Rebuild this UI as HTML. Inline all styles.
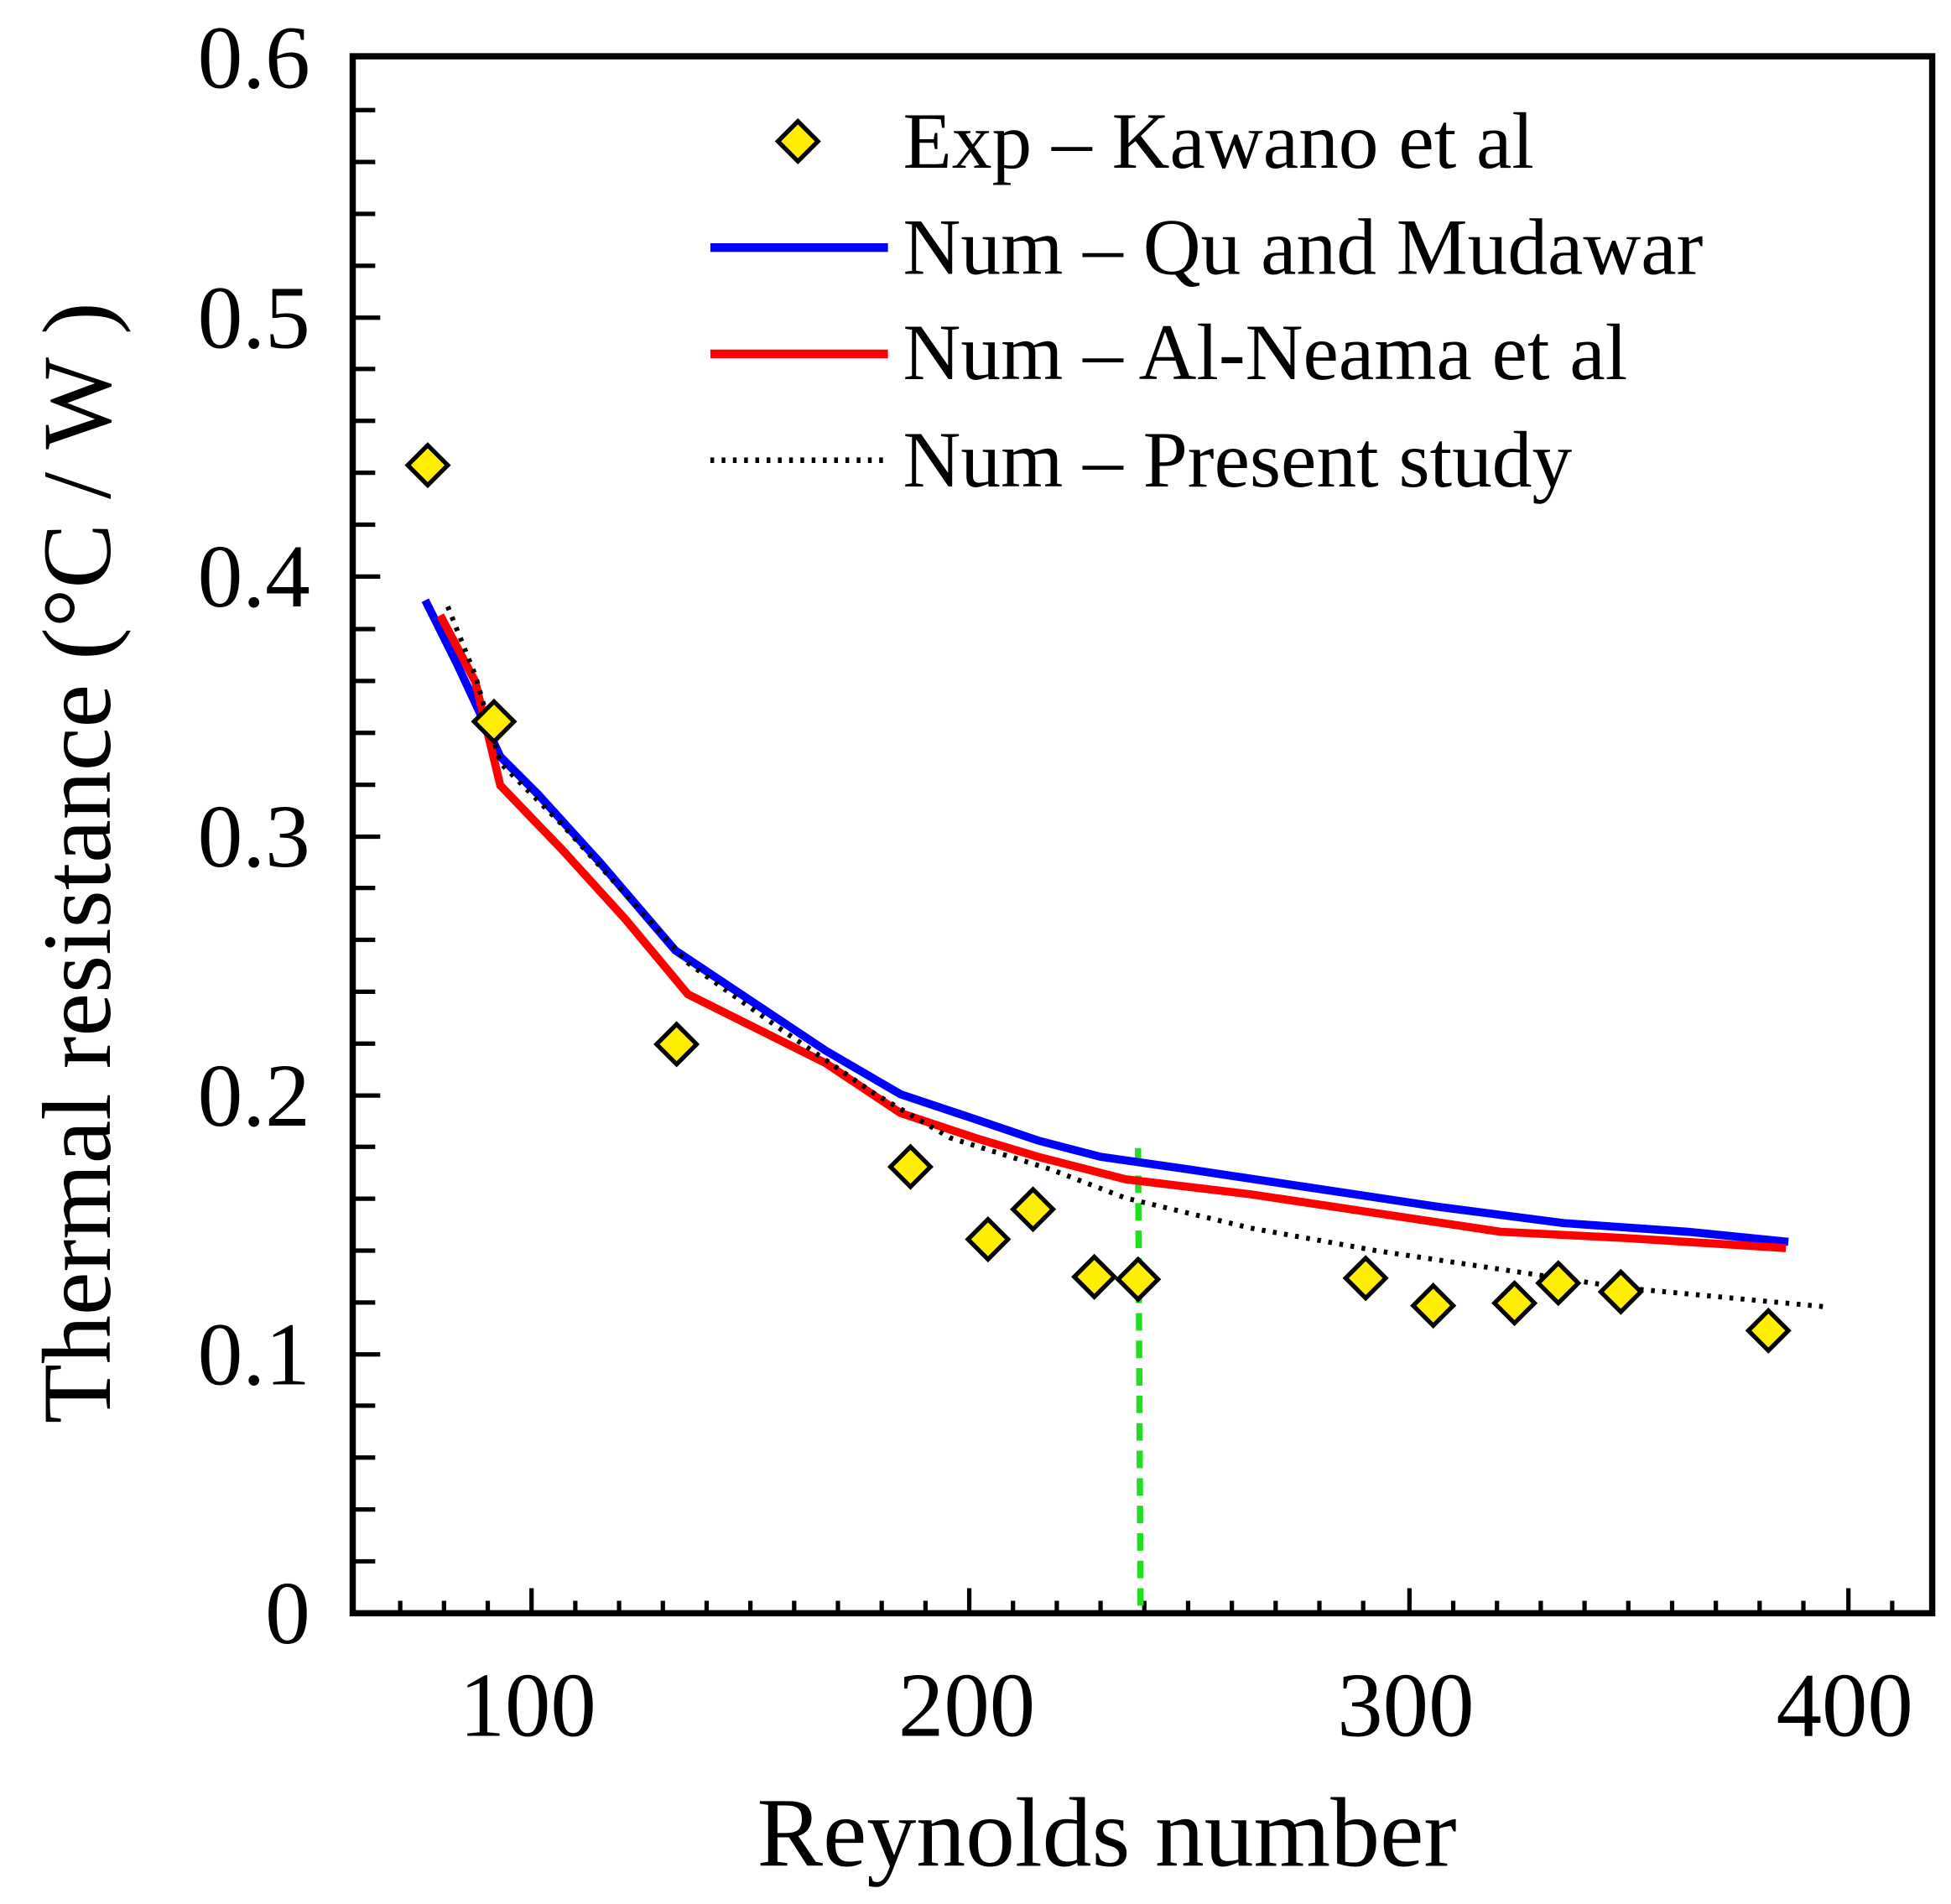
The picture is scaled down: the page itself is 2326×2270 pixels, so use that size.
<!DOCTYPE html>
<html><head><style>html,body{margin:0;padding:0;background:#fff}svg{display:block}</style></head><body>
<svg width="2326" height="2270" viewBox="0 0 1560 1522.5" xmlns="http://www.w3.org/2000/svg" font-family="Liberation Serif, serif">
<rect width="1560" height="1523" fill="#fff"/>
<rect x="282" y="45" width="1263" height="1245" fill="none" stroke="#000" stroke-width="5"/>
<g stroke="#000" stroke-width="3.5">
<path d="M425 1290v-20M775 1290v-20M1127 1290v-20M1478 1290v-20"/>
<path d="M320 1290v-10M355 1290v-10M390 1290v-10M460 1290v-10M495 1290v-10M530 1290v-10M565 1290v-10M600 1290v-10M635 1290v-10M670 1290v-10M705 1290v-10M740 1290v-10M810 1290v-10M845 1290v-10M880 1290v-10M915 1290v-10M950 1290v-10M985 1290v-10M1020 1290v-10M1055 1290v-10M1090 1290v-10M1162 1290v-10M1197 1290v-10M1232 1290v-10M1267 1290v-10M1302 1290v-10M1337 1290v-10M1372 1290v-10M1407 1290v-10M1442 1290v-10M1513 1290v-10"/>
<path d="M282 1083h22M282 876h22M282 669h22M282 461h22M282 254h22"/>
<path d="M282 1248.5h18M282 1207h18M282 1165.5h18M282 1124h18M282 1041.5h18M282 1000h18M282 958.5h18M282 917h18M282 834.5h18M282 793h18M282 751.5h18M282 710h18M282 627.5h18M282 586h18M282 544.5h18M282 503h18M282 419.5h18M282 378h18M282 336.5h18M282 295h18M282 212.5h18M282 171h18M282 129.5h18M282 88h18"/>
</g>
<g font-size="72" text-anchor="end" fill="#000">
<text x="248" y="1314">0</text><text x="248" y="1107">0.1</text><text x="248" y="900">0.2</text><text x="248" y="693">0.3</text><text x="248" y="485">0.4</text><text x="248" y="278">0.5</text><text x="248" y="70">0.6</text>
</g>
<g font-size="73" text-anchor="middle" fill="#000">
<text x="422" y="1388">100</text><text x="773" y="1388">200</text><text x="1124" y="1388">300</text><text x="1475" y="1388">400</text>
</g>
<text x="885" y="1492" font-size="79" text-anchor="middle">Reynolds number</text>
<text transform="translate(88,690) rotate(-90)" font-size="78" text-anchor="middle">Thermal resistance (°C / W )</text>
<line x1="910" y1="918" x2="912" y2="1290" stroke="#22dd22" stroke-width="5" stroke-dasharray="14,8"/>
<polyline fill="none" stroke="#0000ff" stroke-width="6.5" points="340,480 365,530 400,605 430,635 480,690 540,760 600,800 660,840 720,875 780,895 830,912 880,925 950,935 1050,950 1150,965 1250,978 1350,985 1430,993"/>
<polyline fill="none" stroke="#ff0000" stroke-width="6.5" points="352,492 380,545 400,628 450,680 500,735 550,795 600,820 660,850 720,890 780,910 830,925 900,943 1000,955 1100,970 1200,985 1300,990 1428,998"/>
<polyline fill="none" stroke="#000" stroke-width="4" stroke-dasharray="3,6" points="358,485 380,540 400,610 450,660 500,715 550,770 620,820 700,875 760,910 840,935 900,958 1000,982 1100,1000 1200,1015 1300,1030 1460,1045"/>
<g fill="#ffee00" stroke="#000" stroke-width="3.5">
<path d="M0 -16L16 0L0 16L-16 0Z" transform="translate(342,372)"/>
<path d="M0 -16L16 0L0 16L-16 0Z" transform="translate(395,577)"/>
<path d="M0 -16L16 0L0 16L-16 0Z" transform="translate(541,835)"/>
<path d="M0 -16L16 0L0 16L-16 0Z" transform="translate(728,933)"/>
<path d="M0 -16L16 0L0 16L-16 0Z" transform="translate(790,991)"/>
<path d="M0 -16L16 0L0 16L-16 0Z" transform="translate(826,967)"/>
<path d="M0 -16L16 0L0 16L-16 0Z" transform="translate(875,1021)"/>
<path d="M0 -16L16 0L0 16L-16 0Z" transform="translate(910,1023)"/>
<path d="M0 -16L16 0L0 16L-16 0Z" transform="translate(1092,1022)"/>
<path d="M0 -16L16 0L0 16L-16 0Z" transform="translate(1146,1044)"/>
<path d="M0 -16L16 0L0 16L-16 0Z" transform="translate(1211,1042)"/>
<path d="M0 -16L16 0L0 16L-16 0Z" transform="translate(1246,1026)"/>
<path d="M0 -16L16 0L0 16L-16 0Z" transform="translate(1296,1033)"/>
<path d="M0 -16L16 0L0 16L-16 0Z" transform="translate(1414,1064)"/>
<path d="M0 -16L16 0L0 16L-16 0Z" transform="translate(638,113)"/>
</g>
<line x1="568" y1="198" x2="710" y2="198" stroke="#0000ff" stroke-width="7"/>
<line x1="568" y1="283" x2="710" y2="283" stroke="#ff0000" stroke-width="7"/>
<line x1="568" y1="368" x2="710" y2="368" stroke="#000" stroke-width="4.5" stroke-dasharray="3,6"/>
<g font-size="64" fill="#000">
<text x="722" y="134">Exp – Kawano et al</text>
<text x="722" y="219">Num – Qu and Mudawar</text>
<text x="722" y="303">Num – Al-Neama et al</text>
<text x="722" y="389">Num – Present study</text>
</g>
</svg>
</body></html>
